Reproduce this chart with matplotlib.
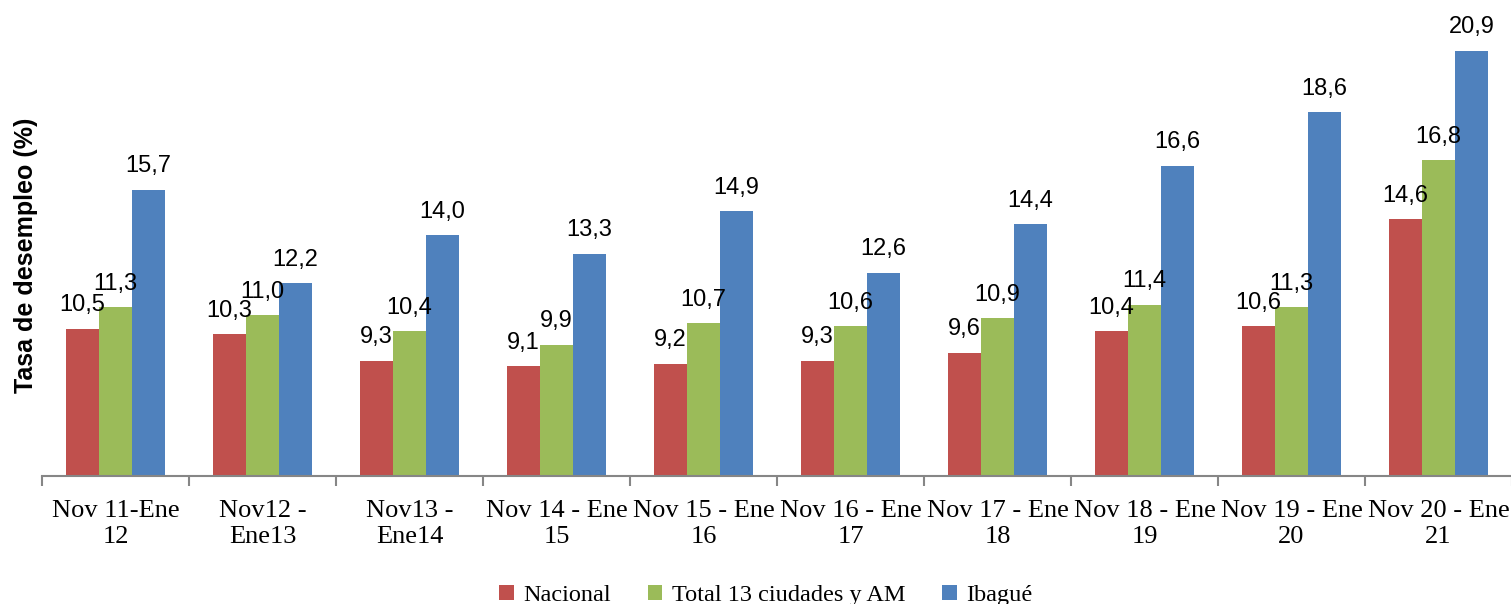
import numpy as np
import matplotlib.pyplot as plt

# Data: unemployment rate (%) for Nov-Ene quarters
periodos = ["Nov 11-Ene\n12", "Nov12 -\nEne13", "Nov13 -\nEne14", "Nov 14 - Ene\n15",
            "Nov 15 - Ene\n16", "Nov 16 - Ene\n17", "Nov 17 - Ene\n18", "Nov 18 - Ene\n19",
            "Nov 19 - Ene\n20", "Nov 20 - Ene\n21"]
nacional = [10.5, 10.3, 9.3, 9.1, 9.2, 9.3, 9.6, 10.4, 10.6, 14.6]
total_13 = [11.3, 11.0, 10.4, 9.9, 10.7, 10.6, 10.9, 11.4, 11.3, 16.8]
ibague = [15.7, 12.2, 14.0, 13.3, 14.9, 12.6, 14.4, 16.6, 18.6, 20.9]

series = [("Nacional", nacional, "#C0504D"),
          ("Total 13 ciudades y AM", total_13, "#9BBB59"),
          ("Ibagué", ibague, "#4F81BD")]

fig = plt.figure(figsize=(15.11, 6.04), dpi=100)
ax = fig.add_axes([0.0278, 0.212, 0.9729, 0.753])

x = np.arange(len(periodos))
w = 0.225
for k, (name, vals, col) in enumerate(series):
    bars = ax.bar(x + (k - 1) * w, vals, w, color=col, label=name)
    ax.bar_label(bars, labels=[f"{v:.1f}".replace(".", ",") for v in vals],
                 padding=9, fontsize=17, family="Liberation Sans")

ax.set_xlim(-0.5, len(periodos) - 0.5)
ax.set_ylim(5, 22)

# only the bottom axis line, ticks between groups
for s in ["top", "right", "left"]:
    ax.spines[s].set_visible(False)
ax.spines["bottom"].set_color("#868686")
ax.spines["bottom"].set_linewidth(1.5)
ax.set_yticks([])
ax.set_xticks(np.arange(-0.5, len(periodos)), minor=False)
ax.set_xticklabels([])
ax.tick_params(axis="x", which="major", length=7, width=1.5, color="#868686")
ax.set_xticks(x, minor=True)
ax.set_xticklabels(periodos, minor=True, family="Liberation Serif", fontsize=19,
                   linespacing=1.25)
ax.tick_params(axis="x", which="minor", length=0, pad=17)

ax.set_ylabel("Tasa de desempleo (%)", family="Liberation Sans", fontweight="bold",
              fontsize=18)
ax.yaxis.set_label_coords(-0.003, 0.486)

fig.legend(loc="lower center", bbox_to_anchor=(0.507, -0.04), ncol=3, frameon=False,
           prop={"family": "Liberation Serif", "size": 17.5}, handlelength=0.6,
           handleheight=0.6, handletextpad=0.4, columnspacing=1.5)

fig.savefig("out.png", dpi=100)
